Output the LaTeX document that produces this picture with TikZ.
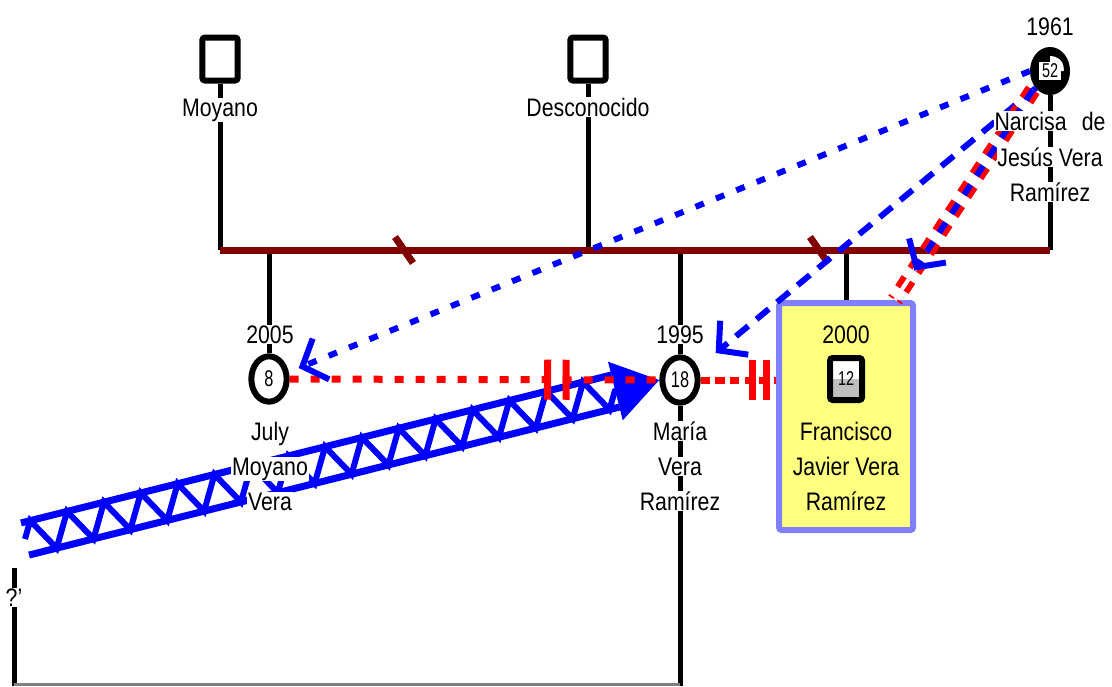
\documentclass[tikz,border=0pt]{standalone}
\usepackage{fontspec}
\setmainfont[FakeStretch=0.84]{Liberation Sans}
\newfontfamily\numfont[FakeStretch=0.72]{Liberation Sans}
\usetikzlibrary{shapes.geometric,arrows.meta,calc,decorations.pathmorphing,decorations.markings}

\definecolor{kinred}{RGB}{128,0,0}
\definecolor{relblue}{RGB}{0,0,255}
\definecolor{relred}{RGB}{255,0,0}
\definecolor{boxfill}{RGB}{255,255,128}
\definecolor{boxline}{RGB}{128,128,255}
\newcommand\lbl{\fontsize{19pt}{22pt}\selectfont}
\newcommand\numlbl{\numfont\fontsize{17pt}{17pt}\selectfont}
\newcommand\smnum{\numfont\fontsize{15pt}{15pt}\selectfont}

\tikzset{
  male/.style={draw,fill=white,line width=4.5pt,rounded corners=2pt,inner sep=0pt,minimum width=25.5pt,minimum height=32.25pt},
  female/.style={ellipse,draw,fill=white,line width=4.5pt,inner sep=0pt,minimum width=26.5pt,minimum height=34pt,font=\numlbl},
  kin/.style={line width=3.75pt},
  couple/.style={kinred,line width=5.25pt},
  txt/.style={font=\lbl,fill=white,inner sep=0.6pt,anchor=base},
  boxtxt/.style={txt,fill=none},
  zzband/.style={relblue,line width=5.25pt},
  zz/.style={relblue,line width=4.5pt,decorate,decoration={zigzag,segment length=28.5pt,amplitude=12.4pt}},
  reddot/.style={relred,line width=5.25pt,dash pattern=on 6.75pt off 9pt},
  reddash/.style={relred,line width=5.25pt,dash pattern=on 7pt off 4pt},
  reddbl/.style={relred,line width=4.5pt,double=white,double distance=3pt,dash pattern=on 9pt off 8pt},
  bluedot/.style={relblue,line width=4.5pt,dash pattern=on 6.75pt off 9.75pt,-{Straight Barb[sharp,length=15pt,width=33pt]}},
  bluedash/.style={relblue,line width=4.5pt,dash pattern=on 12pt off 8pt,-{Straight Barb[sharp,length=15pt,width=33pt]}},
  cutmarks/.style 2 args={postaction={decorate,decoration={markings,
      mark=at position #1 with {\draw[solid] (0,-15pt) -- (0,15pt);},
      mark=at position #2 with {\draw[solid] (0,-15pt) -- (0,15pt);}}}}
}

\begin{document}
\begin{tikzpicture}[x=0.75pt,y=-0.75pt]
  \useasboundingbox (0,0) rectangle (1112,686);
  \coordinate (mrg) at (0,250);
  \coordinate (bot) at (0,686);
  \coordinate (gl) at (0,684);
  \coordinate (unk) at (14,568);

  % persons
  \node[male,minimum width=26.5pt] (moy) at (220,59) {};
  \node[male,minimum width=26.5pt] (des) at (588,59) {};
  \node[ellipse,draw,fill=black,line width=4.5pt,inner sep=0pt,minimum width=25.5pt,minimum height=31.5pt,font=\smnum,
    path picture={
      \fill[white] (path picture bounding box.center) -- ++(0,-15) arc[start angle=-90,end angle=0,radius=15] -- cycle;
      \fill[white] ([shift={(-11,-9)}]path picture bounding box.center) rectangle ++(22,18);}] (nar) at (1050,71) {52};
  \node[female] (jul) at (269,379) {8};
  \node[female] (mar) at (680,380) {18};
  \node[draw=boxline,fill=boxfill,line width=4.5pt,rounded corners=2pt,minimum width=100.5pt,minimum height=170.25pt] (fbox) at (846,416.5) {};
  \node[male,minimum width=24pt,minimum height=31.5pt,font=\smnum,
    path picture={\fill[black!25] (path picture bounding box.west) rectangle (path picture bounding box.south east);}] (fra) at (846,379) {12};

  % family lines
  \draw[kin] (moy.south) -- (moy.south |- mrg);
  \draw[kin] (des.south) -- (des.south |- mrg);
  \draw[kin] (nar.south) -- (nar.south |- mrg);
  \draw[kin] (jul.north) -- (jul.north |- mrg);
  \draw[kin] (mar.north) -- (mar.north |- mrg);
  \draw[kin] (mar.south) -- (mar.south |- bot);
  \draw[kin] (fbox.north) -- (fbox.north |- mrg);
  \draw[kin] (unk) -- (unk |- bot);
  \draw[black!50,line width=2.25pt] (unk |- gl) -- (mar.south |- gl);
  \draw[couple] (moy.south |- mrg) -- (nar.south |- mrg);
  \foreach \a/\b in {moy/des,des/nar}
    \draw[couple] ($(\a.south |- mrg)!0.5!(\b.south |- mrg)$) +(-9,-13) -- +(9,13);

  % relations
  \coordinate (zs) at (25,539);
  \coordinate (ze) at ($(mar.west)!34pt!(zs)$);
  \draw[zzband] ($(zs)!12.4pt!90:(ze)$) -- ($(ze)!12.4pt!-90:(zs)$);
  \draw[zzband] ($(zs)!12.4pt!-90:(ze)$) -- ($(ze)!12.4pt!90:(zs)$);
  \draw[zz] (zs) -- (ze);
  \draw[zzband,-{Triangle[length=34pt,width=44pt]}] (ze) -- (mar.west);

  \draw[reddot,cutmarks={0.698}{0.748}] (jul.east) -- (mar.west);
  \draw[reddash,cutmarks={0.683}{0.878}] (mar.east) -- (mar.east -| fbox.west);

  \draw[bluedot] (nar.west) -- ([shift={(9,-11)}]jul.east);
  \draw[bluedash] (nar.south west) -- ([shift={(15,-27)}]mar.east);
  \coordinate (na) at ([shift={(-3,2)}]nar.south west);
  \coordinate (fa) at ([shift={(49,0)}]fbox.north);
  \draw[reddbl] (na) -- (fa);
  \draw[bluedash,dash pattern=on 9pt off 8pt] (na) -- ($(na)!0.86!(fa)$);

  % labels
  \node[txt] (moyn) at (220,116) {Moyano};
  \node[txt] (desn) at (588,116) {Desconocido};
  \node[txt] (nary) at (1050,35) {1961};
  \node[txt] (nar1) at (1050,130) {Narcisa\hspace{0.6em}de};
  \node[txt] (nar2) at (1050,166) {Jesús Vera};
  \node[txt] (nar3) at (1050,201) {Ramírez};
  \node[txt] (july) at (270,343) {2005};
  \node[txt] (mary) at (680,343) {1995};
  \node[boxtxt] (fray) at (846,343) {2000};
  \foreach \t [count=\i] in {July,Moyano,Vera}
    \node[txt] (jul\i) at (270,405+35*\i) {\t};
  \foreach \t [count=\i] in {María,Vera,Ramírez}
    \node[txt] (mar\i) at (680,405+35*\i) {\t};
  \foreach \t [count=\i] in {Francisco,Javier Vera,Ramírez}
    \node[boxtxt] (fra\i) at (846,405+35*\i) {\t};
  \node[txt] (unkn) at (14,606) {?'};
\end{tikzpicture}
\end{document}
